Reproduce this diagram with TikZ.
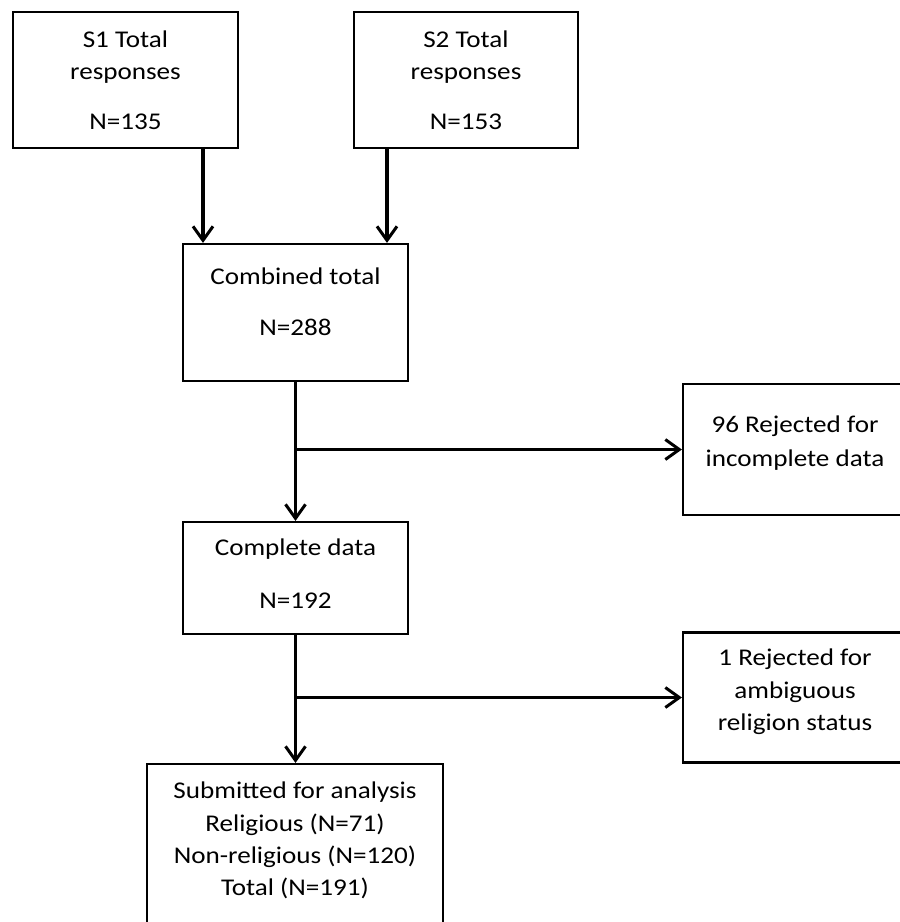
\documentclass[tikz,border=0pt]{standalone}
\usepackage{fontspec}
\setmainfont{Carlito}[FakeStretch=1.13]
\usetikzlibrary{arrows.meta}
\begin{document}
\begin{tikzpicture}[x=1pt,y=-1pt,
  box/.style={draw, line width=2.2pt, rectangle, inner sep=0pt},
  lbl/.style={anchor=base, inner sep=0pt, font=\fontsize{24}{28}\selectfont},
  arr/.style={line width=3.2pt, -{Straight Barb[length=14pt,width=20pt,line width=3pt]}}]
\clip (0,0) rectangle (900,922);
\useasboundingbox (0,0) rectangle (900,922);
% boxes
\node[box, minimum width=225pt, minimum height=136pt] (s1) at (125.5,80) {};
\node[box, minimum width=224pt, minimum height=136pt] (s2) at (466,80) {};
\node[box, minimum width=225pt, minimum height=137pt] (comb) at (295.5,312.5) {};
\node[box, minimum width=224pt, minimum height=131pt] (rej1) at (795,449.5) {};
\node[box, minimum width=225pt, minimum height=112pt] (compl) at (295.5,578) {};
\node[box, minimum width=224pt, minimum height=130pt] (rej2) at (795,697.5) {};
\node[box, minimum width=296pt, minimum height=176pt] (sub) at (295,852) {};
% texts
\node[lbl] (s1a) at (125.5,47) {S1 Total};
\node[lbl] (s1b) at (125.5,79) {responses};
\node[lbl] (s1c) at (125.5,129) {N=135};
\node[lbl] (s2a) at (466,47) {S2 Total};
\node[lbl] (s2b) at (466,79) {responses};
\node[lbl] (s2c) at (466,129) {N=153};
\node[lbl] (cba) at (295.5,284) {Combined total};
\node[lbl] (cbb) at (295.5,335) {N=288};
\node[lbl] (r1a) at (795,432) {96 Rejected for};
\node[lbl] (r1b) at (795,466) {incomplete data};
\node[lbl] (cpa) at (295.5,555) {Complete data};
\node[lbl] (cpb) at (295.5,608) {N=192};
\node[lbl] (r2a) at (795,665) {1 Rejected for};
\node[lbl] (r2b) at (795,698) {ambiguous};
\node[lbl] (r2c) at (795,730) {religion status};
\node[lbl] (sba) at (295,798) {Submitted for analysis};
\node[lbl] (sbb) at (295,831) {Religious (N=71)};
\node[lbl] (sbc) at (295,863) {Non-religious (N=120)};
\node[lbl] (sbd) at (295,895) {Total (N=191)};
% connectors
\draw[arr] ([xshift=77.5pt]s1.south) -- ([xshift=77.5pt]s1.south |- comb.north);
\draw[arr] ([xshift=-79pt]s2.south) -- ([xshift=-79pt]s2.south |- comb.north);
\draw[arr] (comb.south) -- (compl.north);
\coordinate (j1) at (comb.south |- rej1.west);
\draw[arr] (j1) -- (rej1.west);
\draw[arr] (compl.south) -- (compl.south |- sub.north);
\coordinate (j2) at (compl.south |- rej2.west);
\draw[arr] (j2) -- (rej2.west);
\end{tikzpicture}
\end{document}
